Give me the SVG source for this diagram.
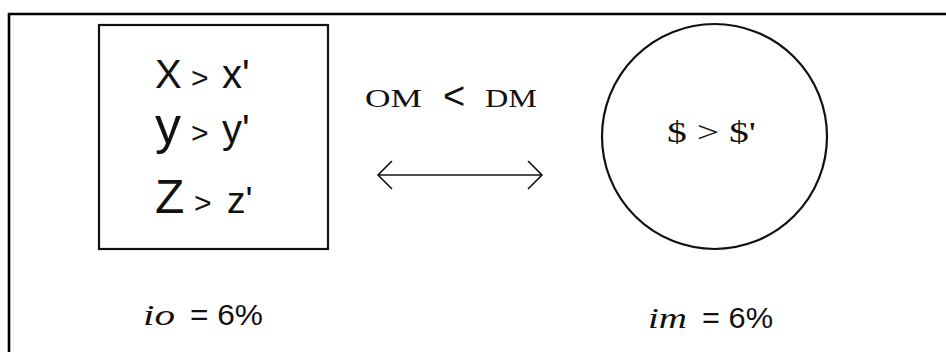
<svg xmlns="http://www.w3.org/2000/svg" width="946" height="352" viewBox="0 0 946 352">
<style>
.sans{font-family:"Liberation Sans",Arial,sans-serif;fill:#111}
.serif{font-family:"Liberation Serif","Times New Roman",serif;fill:#111}
.shape{fill:none;stroke:#111;stroke-width:2.2}
.conn{fill:none;stroke:#111;stroke-width:1.6}
.gt{font-size:30px}
.pr{font-size:40px}
</style>
<rect width="946" height="352" fill="#fff"/>
<g id="frame">
<path d="M9 352 V14 H946" fill="none" stroke="#000" stroke-width="2.6"/>
</g>
<g id="box">
<rect class="shape" x="99" y="25" width="229" height="224"/>
<text class="sans" y="88"><tspan x="155" font-size="40">X</tspan><tspan x="191" class="gt">&gt;</tspan><tspan x="222" class="pr">x'</tspan></text>
<text class="sans" y="143"><tspan x="155" font-size="52">y</tspan><tspan x="191" class="gt">&gt;</tspan><tspan x="222" class="pr">y'</tspan></text>
<text class="sans" y="213"><tspan x="155" font-size="48">Z</tspan><tspan x="194" class="gt">&gt;</tspan><tspan x="227" font-size="37">z'</tspan></text>
</g>
<g id="relation">
<text class="serif" x="365" y="107" font-size="25" textLength="57" lengthAdjust="spacingAndGlyphs">OM</text>
<text class="sans" x="443" y="109" font-size="38">&lt;</text>
<text class="serif" x="485" y="107" font-size="25" textLength="52" lengthAdjust="spacingAndGlyphs">DM</text>
</g>
<g id="connectors">
<line class="conn" x1="378" y1="175" x2="542" y2="175"/>
<path class="conn" d="M392 161 L378 175 L392 189"/>
<path class="conn" d="M528 161 L542 175 L528 189"/>
</g>
<g id="circle">
<circle class="shape" cx="714.5" cy="136.5" r="112.5"/>
<text class="serif" x="667" y="142" font-size="30" textLength="89" lengthAdjust="spacingAndGlyphs">$ &gt; $'</text>
</g>
<g id="io">
<text class="serif" x="143" y="325" font-size="30" font-style="italic" textLength="32" lengthAdjust="spacingAndGlyphs">io</text>
<text class="sans" x="190" y="325" font-size="29" textLength="73" lengthAdjust="spacingAndGlyphs">= 6%</text>
</g>
<g id="im">
<text class="serif" x="648" y="328" font-size="30" font-style="italic" textLength="39" lengthAdjust="spacingAndGlyphs">im</text>
<text class="sans" x="702" y="328" font-size="29" textLength="71" lengthAdjust="spacingAndGlyphs">= 6%</text>
</g>
</svg>
